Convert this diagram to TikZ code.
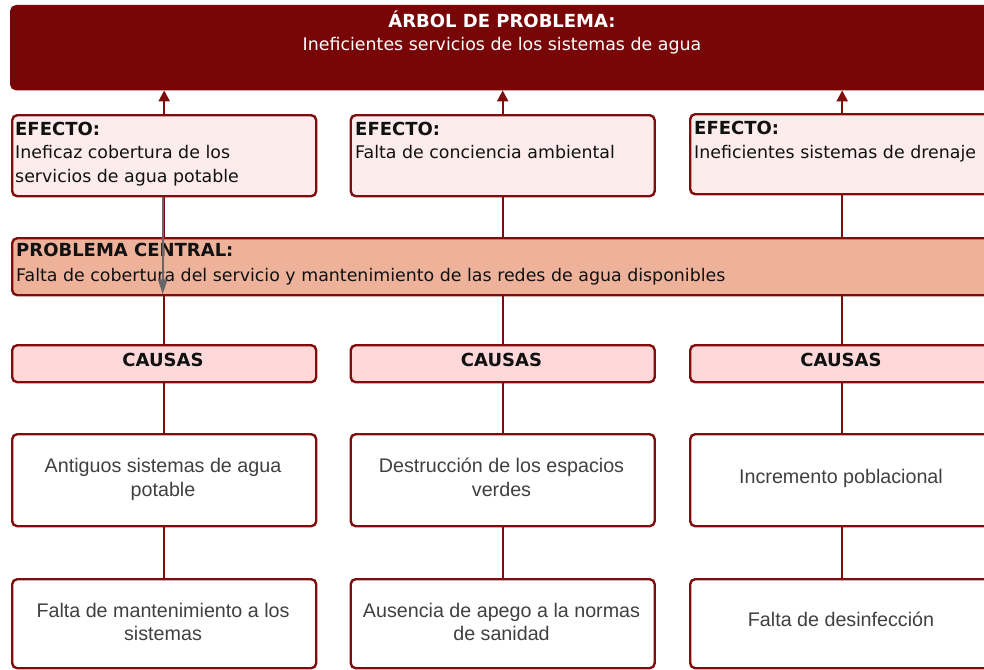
\documentclass[tikz,border=0pt]{standalone}
\usepackage{fontspec}
\setmainfont{Liberation Sans}
\newfontfamily\dvs{DejaVu Sans}
\usetikzlibrary{arrows.meta}
\definecolor{topred}{HTML}{780606}
\definecolor{bordred}{HTML}{7F0D0D}
\definecolor{efill}{HTML}{FDECEC}
\definecolor{cfill}{HTML}{EEB29B}
\definecolor{kfill}{HTML}{FFD9DA}
\definecolor{ctext}{HTML}{404040}
\definecolor{etext}{HTML}{111111}
\definecolor{garrow}{HTML}{666666}
\begin{document}
\begin{tikzpicture}[x=1pt,y=-1pt,
  box/.style={draw=bordred, line width=2.4pt, rounded corners=5pt, inner sep=0pt, anchor=north west},
  conn/.style={draw=bordred, line width=2.4pt},
  uparrow/.style={conn, -{Triangle[length=11pt,width=11pt]}},
  dtxt/.style={font=\dvs\fontsize{17.4}{20}\selectfont, text=etext, inner sep=0pt},
  dbold/.style={font=\dvs\bfseries\fontsize{18}{20}\selectfont, text=etext, inner sep=0pt},
  ltxt/.style={font=\fontsize{19.7}{23}\selectfont, text=ctext, inner sep=0pt, anchor=base},
]
\useasboundingbox (0,0) rectangle (984,669);
\clip (0,0) rectangle (984,669);

% boxes
\node[box, fill=topred, draw=topred, minimum width=990pt, minimum height=83pt] (top) at (10,5) {};
\node[box, fill=efill, minimum width=304pt, minimum height=81pt] (e1) at (11,114) {};
\node[box, fill=efill, minimum width=304pt, minimum height=81pt] (e2) at (349.5,114) {};
\node[box, fill=efill, minimum width=304pt, minimum height=80pt] (e3) at (689,113) {};
\node[box, fill=cfill, minimum width=1000pt, minimum height=57pt] (cen) at (11,237) {};
\node[box, fill=kfill, minimum width=304pt, minimum height=37pt] (k1) at (11,344) {};
\node[box, fill=kfill, minimum width=304pt, minimum height=37pt] (k2) at (349.5,344) {};
\node[box, fill=kfill, minimum width=304pt, minimum height=37pt] (k3) at (689,344) {};
\node[box, fill=white, minimum width=304pt, minimum height=92pt] (a1) at (11,433) {};
\node[box, fill=white, minimum width=304pt, minimum height=92pt] (a2) at (349.5,433) {};
\node[box, fill=white, minimum width=304pt, minimum height=92pt] (a3) at (689,433) {};
\node[box, fill=white, minimum width=304pt, minimum height=89pt] (b1) at (11,578) {};
\node[box, fill=white, minimum width=304pt, minimum height=89pt] (b2) at (349.5,578) {};
\node[box, fill=white, minimum width=304pt, minimum height=89pt] (b3) at (689,578) {};

% connectors
\foreach \e in {e1,e2,e3}{
  \draw[uparrow] (\e.north) -- (\e.north |- top.south);
  \draw[conn] (\e.south) -- (\e.south |- cen.north);
}
\foreach \k/\a/\b in {k1/a1/b1,k2/a2/b2,k3/a3/b3}{
  \draw[conn] (\k.north) -- (\k.north |- cen.south);
  \draw[conn] (\k.south) -- (\a.north);
  \draw[conn] (\a.south) -- (\b.north);
}

% title
\node[font=\dvs\bfseries\fontsize{18}{20}\selectfont, text=white, inner sep=0pt, anchor=base] (tt1) at (502,28) {ÁRBOL DE PROBLEMA:};
\node[font=\dvs\fontsize{17.4}{20}\selectfont, text=white, inner sep=0pt, anchor=base] (tt2) at (502,51) {Ineficientes servicios de los sistemas de agua};

% effects
\node[dbold, anchor=base west] (e1t1) at (15,135) {EFECTO:};
\node[dtxt, anchor=base west] (e1t2) at (15,158.5) {Ineficaz cobertura de los};
\node[dtxt, anchor=base west] (e1t3) at (15,182) {servicios de agua potable};
\node[dbold, anchor=base west] (e2t1) at (355,135) {EFECTO:};
\node[dtxt, anchor=base west] (e2t2) at (355,158.5) {Falta de conciencia ambiental};
\node[dbold, anchor=base west] (e3t1) at (694,134.5) {EFECTO:};
\node[dtxt, anchor=base west] (e3t2) at (694,158) {Ineficientes sistemas de drenaje};

% central
\node[dbold, anchor=base west] (ct1) at (16,256.7) {PROBLEMA CENTRAL:};
\node[dtxt, anchor=base west] (ct2) at (16,281) {Falta de cobertura del servicio y mantenimiento de las redes de agua disponibles};

% causas
\node[dbold, anchor=base] (k1t) at (163,366) {CAUSAS};
\node[dbold, anchor=base] (k2t) at (501.5,366) {CAUSAS};
\node[dbold, anchor=base] (k3t) at (841,366) {CAUSAS};

% causes row 1
\node[ltxt] (a1t1) at (163,472.7) {Antiguos sistemas de agua};
\node[ltxt] (a1t2) at (163,496) {potable};
\node[ltxt] (a2t1) at (501.5,472.7) {Destrucción de los espacios};
\node[ltxt] (a2t2) at (501.5,496) {verdes};
\node[ltxt] (a3t1) at (841,483.5) {Incremento poblacional};

% causes row 2
\node[ltxt] (b1t1) at (163,617.3) {Falta de mantenimiento a los};
\node[ltxt] (b1t2) at (163,640) {sistemas};
\node[ltxt] (b2t1) at (501.5,617.3) {Ausencia de apego a la normas};
\node[ltxt] (b2t2) at (501.5,640) {de sanidad};
\node[ltxt] (b3t1) at (841,626.7) {Falta de desinfección};

% gray arrow
\draw[draw=garrow, line width=2pt, -{Triangle[length=15pt,width=9pt]}, shorten >=2pt]
  ([xshift=-1.5pt]e1.south) -- ([xshift=-1.5pt]e1.south |- cen.south);
\end{tikzpicture}
\end{document}
